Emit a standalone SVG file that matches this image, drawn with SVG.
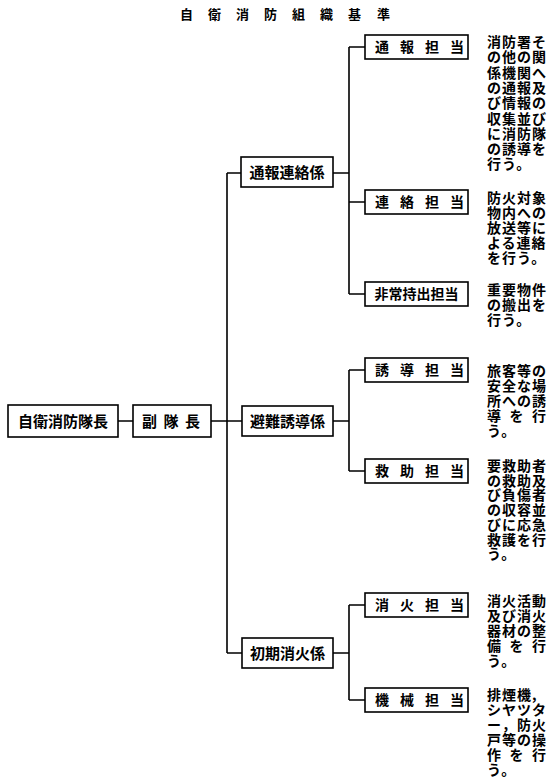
<svg xmlns="http://www.w3.org/2000/svg" width="557" height="780" viewBox="0 0 557 780">
<style>
text{font-family:"Noto Sans CJK JP","Noto Sans CJK SC",sans-serif;font-weight:700;fill:#000}
.box{fill:#fff;stroke:#000;stroke-width:1.6}
.ln{stroke:#000;stroke-width:1.6;fill:none}
.t15{font-size:15px}
.t14{font-size:14px}
.d{font-size:14px;letter-spacing:1px}
.title{font-size:13px}
</style>
<rect width="557" height="780" fill="#fff"/>
<text class="title" x="180 208 236 264 292 320 348 377" y="19">自衛消防組織基準</text>
<g id="connectors">
<path class="ln" d="M118 421H133M211 421H242M227 173V653M227 173H241M227 653H242"/>
<path class="ln" d="M333 173H349M349 47V294M349 47H365M349 202H365M349 294H365"/>
<path class="ln" d="M333 421H349M349 370V471M349 370H365M349 471H365"/>
<path class="ln" d="M333 653H349M349 605V700M349 605H365M349 700H365"/>
</g>
<g id="n-taichou"><rect class="box" x="8" y="405" width="110" height="32"/><text class="t15" x="63" y="426.5" text-anchor="middle">自衛消防隊長</text></g>
<g id="n-fukutaichou"><rect class="box" x="133" y="405" width="78" height="32"/><text class="t15" x="142 163.5 185" y="426.5">副隊長</text></g>
<g id="n-tsuhorenraku"><rect class="box" x="241" y="157" width="92" height="30"/><text class="t15" x="287" y="177.5" text-anchor="middle">通報連絡係</text></g>
<g id="n-hinan"><rect class="box" x="242" y="406" width="91" height="30"/><text class="t15" x="287.5" y="426.5" text-anchor="middle">避難誘導係</text></g>
<g id="n-shoki"><rect class="box" x="242" y="638" width="91" height="30"/><text class="t15" x="287.5" y="658.5" text-anchor="middle">初期消火係</text></g>
<g id="n-tsuho"><rect class="box" x="365" y="35" width="103" height="24"/><text class="t14" x="375 400 425 450" y="52">通報担当</text>
<text class="d" x="487" y="47">消防署そ</text>
<text class="d" x="487" y="62.3">の他の関</text>
<text class="d" x="487" y="77.6">係機関へ</text>
<text class="d" x="487" y="92.9">の通報及</text>
<text class="d" x="487" y="108.2">び情報の</text>
<text class="d" x="487" y="123.5">収集並び</text>
<text class="d" x="487" y="138.8">に消防隊</text>
<text class="d" x="487" y="154.1">の誘導を</text>
<text class="d" x="487" y="169.4">行う。</text></g>
<g id="n-renraku"><rect class="box" x="365" y="190" width="103" height="24"/><text class="t14" x="375 400 425 450" y="207">連絡担当</text>
<text class="d" x="487" y="203">防火対象</text>
<text class="d" x="487" y="218">物内への</text>
<text class="d" x="487" y="233">放送等に</text>
<text class="d" x="487" y="248">よる連絡</text>
<text class="d" x="487" y="263">を行う。</text></g>
<g id="n-hijo"><rect class="box" x="365" y="282" width="103" height="24"/><text class="t14" x="416.5" y="299" text-anchor="middle">非常持出担当</text>
<text class="d" x="487" y="295">重要物件</text>
<text class="d" x="487" y="310">の搬出を</text>
<text class="d" x="487" y="325">行う。</text></g>
<g id="n-yudo"><rect class="box" x="365" y="358" width="103" height="24"/><text class="t14" x="375 400 425 450" y="375">誘導担当</text>
<text class="d" x="487" y="376">旅客等の</text>
<text class="d" x="487" y="391">安全な場</text>
<text class="d" x="487" y="406">所への誘</text>
<text class="d" x="487 509.5 532" y="421">導を行</text>
<text class="d" x="487" y="436">う。</text></g>
<g id="n-kyujo"><rect class="box" x="365" y="459" width="103" height="24"/><text class="t14" x="375 400 425 450" y="476">救助担当</text>
<text class="d" x="487" y="471">要救助者</text>
<text class="d" x="487" y="485.7">の救助及</text>
<text class="d" x="487" y="500.4">び負傷者</text>
<text class="d" x="487" y="515.1">の収容並</text>
<text class="d" x="487" y="529.8">びに応急</text>
<text class="d" x="487" y="544.5">救護を行</text>
<text class="d" x="487" y="559.2">う。</text></g>
<g id="n-shoka"><rect class="box" x="365" y="593" width="103" height="24"/><text class="t14" x="375 400 425 450" y="610">消火担当</text>
<text class="d" x="487" y="606">消火活動</text>
<text class="d" x="487" y="621">及び消火</text>
<text class="d" x="487" y="636">器材の整</text>
<text class="d" x="487 509.5 532" y="651">備を行</text>
<text class="d" x="487" y="666">う。</text></g>
<g id="n-kikai"><rect class="box" x="365" y="688" width="103" height="24"/><text class="t14" x="375 400 425 450" y="705">機械担当</text>
<text class="d" x="487" y="700">排煙機,</text>
<text class="d" x="487" y="715">シヤツタ</text>
<text class="d" x="487" y="730">ー，防火</text>
<text class="d" x="487" y="745">戸等の操</text>
<text class="d" x="487 509.5 532" y="760">作を行</text>
<text class="d" x="487" y="775">う。</text></g>
</svg>
